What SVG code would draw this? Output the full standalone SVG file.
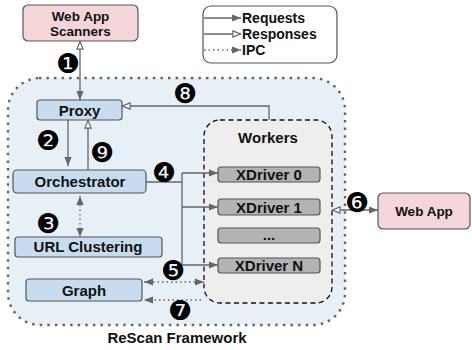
<svg xmlns="http://www.w3.org/2000/svg" width="472" height="350" viewBox="0 0 472 350">
<defs>
<style>
.t{font-family:"Liberation Sans",Arial,sans-serif;font-weight:bold;fill:#111;text-anchor:middle}
.box{stroke:#555;stroke-width:1.2}
.blue{fill:#c8dcf0}
.pink{fill:#f4d6d8}
.gray{fill:#b3b3b3}
.ln{fill:none;stroke:#666;stroke-width:1.3}
.ipc{fill:none;stroke:#666;stroke-width:1.3;stroke-dasharray:1.5 3}
.num{font-family:"DejaVu Sans",sans-serif;font-size:27px;fill:#000;text-anchor:middle}
</style>
<marker id="req" viewBox="0 0 10 10" refX="10" refY="5" markerWidth="9" markerHeight="9" markerUnits="userSpaceOnUse" orient="auto-start-reverse">
<path d="M0,1 L10,5 L0,9 Z" fill="#666"/>
</marker>
<marker id="res" viewBox="0 0 10 10" refX="10" refY="5" markerWidth="9" markerHeight="9" markerUnits="userSpaceOnUse" orient="auto-start-reverse">
<path d="M1,1.5 L9.5,5 L1,8.5 Z" fill="#fff" stroke="#666" stroke-width="1.3"/>
</marker>
<marker id="ipc" viewBox="0 0 10 10" refX="10" refY="5" markerWidth="9" markerHeight="9" markerUnits="userSpaceOnUse" orient="auto-start-reverse">
<path d="M0,1 L10,5 L0,9 Z" fill="#666"/>
</marker>
</defs>

<g id="framework">
<rect x="8" y="78" width="337" height="247" rx="32" fill="#e8f0f7" stroke="#666" stroke-width="2.4" stroke-dasharray="0.1 7.5" stroke-linecap="square"/>
<text class="t" x="177" y="343" font-size="15">ReScan Framework</text>
</g>

<g id="legend">
<rect x="203" y="6" width="134" height="57" rx="8" fill="#fff" class="box"/>
<line x1="204" y1="18" x2="241" y2="18" class="ln" marker-end="url(#req)"/>
<line x1="204" y1="34" x2="241" y2="34" class="ln" marker-end="url(#res)"/>
<line x1="204" y1="50" x2="241" y2="50" class="ipc" marker-end="url(#ipc)"/>
<text class="t" x="242" y="23" font-size="14" style="text-anchor:start">Requests</text>
<text class="t" x="242" y="39" font-size="14" style="text-anchor:start">Responses</text>
<text class="t" x="242" y="55" font-size="14" style="text-anchor:start">IPC</text>
</g>

<g id="scanners">
<rect x="23" y="5" width="115" height="36" rx="5" class="box pink"/>
<text class="t" x="80.5" y="21" font-size="13.5">Web App</text>
<text class="t" x="80.5" y="36" font-size="13.5">Scanners</text>
</g>

<g id="workers">
<rect x="204" y="120" width="128" height="183" rx="16" fill="#eeeeee" stroke="#111" stroke-width="1.3" stroke-dasharray="5 3.5"/>
<text class="t" x="268" y="143" font-size="15">Workers</text>
</g>

<g id="xdriver0">
<rect x="218" y="167" width="102" height="15" rx="3" class="box gray"/>
<text class="t" x="269" y="180" font-size="15">XDriver 0</text>
</g>
<g id="xdriver1">
<rect x="218" y="199" width="102" height="16" rx="3" class="box gray"/>
<text class="t" x="269" y="212.5" font-size="15">XDriver 1</text>
</g>
<g id="xdots">
<rect x="218" y="228" width="102" height="15" rx="3" class="box gray"/>
<text class="t" x="269" y="240" font-size="15">...</text>
</g>
<g id="xdriverN">
<rect x="218" y="258" width="102" height="15" rx="3" class="box gray"/>
<text class="t" x="269" y="271" font-size="15">XDriver N</text>
</g>

<g id="proxy">
<rect x="37" y="100" width="85" height="20" rx="3" class="box blue"/>
<text class="t" x="79.5" y="115.5" font-size="15">Proxy</text>
</g>
<g id="orchestrator">
<rect x="13" y="170" width="133" height="23" rx="4" class="box blue"/>
<text class="t" x="80" y="187" font-size="15">Orchestrator</text>
</g>
<g id="urlclustering">
<rect x="15" y="237" width="147" height="20" rx="3" class="box blue"/>
<text class="t" x="88" y="252" font-size="15">URL Clustering</text>
</g>
<g id="graph">
<rect x="26" y="279" width="116" height="22" rx="3" class="box blue"/>
<text class="t" x="84" y="295.5" font-size="15">Graph</text>
</g>

<g id="webapp">
<rect x="378" y="193" width="92" height="36" rx="5" class="box pink"/>
<text class="t" x="424" y="216" font-size="13.5">Web App</text>
</g>

<g id="connectors">
<line x1="80" y1="41" x2="80" y2="100" class="ln" marker-start="url(#res)" marker-end="url(#req)"/>
<polyline points="269,120 269,106 122,106" class="ln" marker-end="url(#res)"/>
<line x1="68" y1="120" x2="68" y2="166" class="ln" marker-end="url(#req)"/>
<line x1="88" y1="170" x2="88" y2="120" class="ln" marker-end="url(#res)"/>
<line x1="80" y1="196" x2="80" y2="237" class="ipc" marker-start="url(#ipc)" marker-end="url(#ipc)"/>
<polyline points="146,182 182,182" class="ln"/>
<line x1="182" y1="173" x2="182" y2="265" class="ln"/>
<line x1="182" y1="173" x2="218" y2="173" class="ln" marker-end="url(#req)"/>
<line x1="182" y1="207" x2="218" y2="207" class="ln" marker-end="url(#req)"/>
<line x1="182" y1="265" x2="218" y2="265" class="ln" marker-end="url(#req)"/>
<line x1="332" y1="210" x2="378" y2="210" class="ln" marker-start="url(#res)" marker-end="url(#req)"/>
<line x1="144" y1="282" x2="204" y2="282" class="ipc" marker-start="url(#ipc)" marker-end="url(#ipc)"/>
<line x1="201" y1="300" x2="144" y2="300" class="ipc" marker-end="url(#ipc)"/>
</g>

<g id="labels">
<text class="num" x="68" y="72.5">❶</text>
<text class="num" x="48" y="149.5">❷</text>
<text class="num" x="48" y="232.5">❸</text>
<text class="num" x="164" y="181.5">❹</text>
<text class="num" x="173" y="279.5">❺</text>
<text class="num" x="357" y="211.5">❻</text>
<text class="num" x="180" y="319.5">❼</text>
<text class="num" x="185" y="102.5">❽</text>
<text class="num" x="102" y="161.5">❾</text>
</g>
</svg>
